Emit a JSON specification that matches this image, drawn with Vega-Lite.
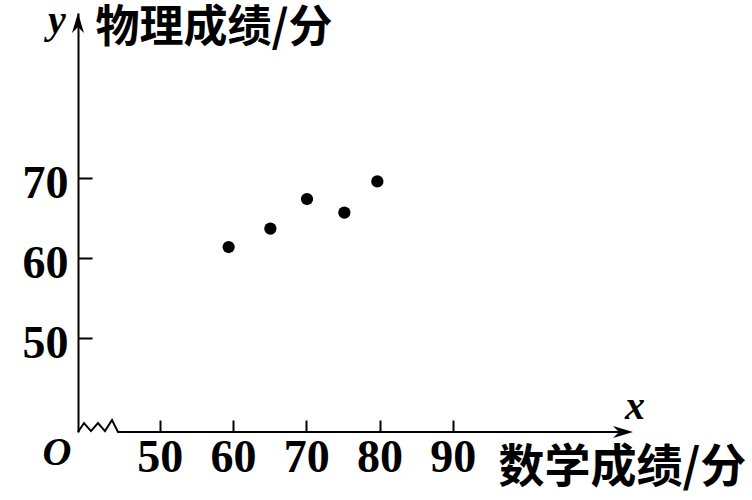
{
 "$schema": "https://vega.github.io/schema/vega-lite/v6.json",
 "width": 555,
 "height": 419,
 "autosize": {"type": "none"},
 "padding": {"left": 78, "top": 13, "right": 119, "bottom": 68},
 "background": "white",
 "view": {"stroke": null},
 "config": {"axis": {"grid": false}},
 "datasets": {
  "pts": [
   {"x": 59.4, "y": 61.4},
   {"x": 65.1, "y": 63.7},
   {"x": 70.1, "y": 67.4},
   {"x": 75.2, "y": 65.7},
   {"x": 79.7, "y": 69.6}
  ],
  "axisline": [
   {"i": 0, "x": 38.84, "y": 38.28},
   {"i": 1, "x": 39.66, "y": 39.4},
   {"i": 2, "x": 40.61, "y": 38.4},
   {"i": 3, "x": 41.57, "y": 39.4},
   {"i": 4, "x": 42.52, "y": 38.4},
   {"i": 5, "x": 43.48, "y": 39.78},
   {"i": 6, "x": 44.3, "y": 38.28},
   {"i": 7, "x": 113.0, "y": 38.28}
  ],
  "xarrow": [{"x": 114.6, "y": 38.28}],
  "yarrow": [{"x": 38.84, "y": 90.65}],
  "letters": [
   {"t": "x", "x": 114.88, "y": 41.4},
   {"t": "y", "x": 35.97, "y": 89.7},
   {"t": "O", "x": 35.97, "y": 35.65}
  ]
 },
 "encoding": {
  "x": {
   "field": "x", "type": "quantitative",
   "scale": {"domain": [38.84, 114.6], "nice": false, "zero": false},
   "axis": {
    "domain": false,
    "values": [50, 60, 70, 80, 90],
    "tickSize": -12, "tickWidth": 2, "tickColor": "black",
    "labelFont": "Liberation Serif", "labelFontSize": 46, "labelFontWeight": "bold",
    "labelColor": "black", "labelPadding": 15, "labelFlush": false, "labelOverlap": false,
    "title": "数学成绩/分", "titleFont": "Noto Sans CJK SC", "titleFontSize": 46,
    "titleFontWeight": "bold", "titleColor": "black",
    "titleX": 420, "titleY": 35, "titleAlign": "left", "titleBaseline": "middle"
   }
  },
  "y": {
   "field": "y", "type": "quantitative",
   "scale": {"domain": [38.28, 90.65], "nice": false, "zero": false},
   "axis": {
    "domain": true, "domainColor": "black", "domainWidth": 2,
    "values": [50, 60, 70],
    "tickSize": -14, "tickWidth": 2, "tickColor": "black",
    "labelFont": "Liberation Serif", "labelFontSize": 46, "labelFontWeight": "bold",
    "labelColor": "black", "labelPadding": 24, "labelOffset": 5, "labelFlush": false, "labelOverlap": false,
    "title": "物理成绩/分", "titleFont": "Noto Sans CJK SC", "titleFontSize": 44,
    "titleFontWeight": "bold", "titleColor": "black", "titleAngle": 0,
    "titleX": 17, "titleY": 15, "titleAlign": "left", "titleBaseline": "middle"
   }
  }
 },
 "layer": [
  {
   "data": {"name": "axisline"},
   "mark": {"type": "line", "color": "black", "strokeWidth": 2, "strokeJoin": "miter"},
   "encoding": {"order": {"field": "i", "type": "quantitative"}}
  },
  {
   "data": {"name": "xarrow"},
   "mark": {"type": "point", "shape": "M0,0L-2,-0.6L-1.4,0L-2,0.6Z", "size": 400, "filled": true, "color": "black", "opacity": 1, "strokeWidth": 0}
  },
  {
   "data": {"name": "yarrow"},
   "mark": {"type": "point", "shape": "M0,0L-0.6,2L0,1.4L0.6,2Z", "size": 400, "filled": true, "color": "black", "opacity": 1, "strokeWidth": 0}
  },
  {
   "data": {"name": "pts"},
   "mark": {"type": "circle", "size": 150, "color": "black", "opacity": 1}
  },
  {
   "data": {"name": "letters"},
   "mark": {"type": "text", "font": "Liberation Serif", "fontSize": 40, "fontStyle": "italic", "fontWeight": "bold", "color": "black", "align": "center", "baseline": "middle"},
   "encoding": {"text": {"field": "t", "type": "nominal"}}
  }
 ]
}
